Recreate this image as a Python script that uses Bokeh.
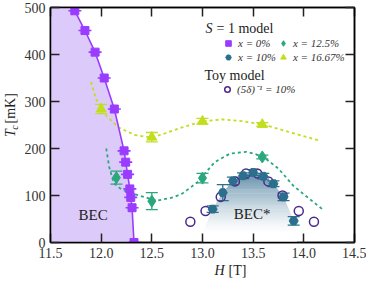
import numpy as np
from bokeh.plotting import figure
from bokeh.layouts import row, column
from bokeh.models import Range1d, LinearAxis, FixedTicker, Label, Legend, LegendItem
from bokeh.embed import file_html
from bokeh.resources import INLINE

# ---------------- data ----------------
x_ticks = [11.5, 12.0, 12.5, 13.0, 13.5, 14.0, 14.5]
x_tick_labels = ["11.5", "12.0", "12.5", "13.0", "13.5", "14.0", "14.5"]
y_ticks = [0, 100, 200, 300, 400, 500]
y_tick_labels = ["0", "100", "200", "300", "400", "500"]

# S = 1 model, x = 0 %
H_x0 = [11.74, 11.84, 11.94, 12.03, 12.13, 12.226, 12.242, 12.261, 12.283, 12.292, 12.305, 12.324]
T_x0 = [493, 451, 405, 350, 284, 195, 171, 145, 114, 96, 74, 0]
# phase boundary line continued to the top edge
H_bound = [11.715] + H_x0
T_bound = [500] + T_x0

# S = 1 model, x = 10 %
H_x10 = [13.1, 13.2, 13.3, 13.4, 13.5, 13.6, 13.7, 13.8, 13.9]
T_x10 = [71, 106, 131, 142, 149, 141, 125, 97, 46]
E_x10 = [7, 17, 8, 6, 6, 6, 6, 8, 9]

# S = 1 model, x = 12.5 %
H_x125 = [12.15, 12.50, 13.00, 13.59]
T_x125 = [138, 88, 137, 182]
E_x125 = [14, 18, 10, 4]

# S = 1 model, x = 16.67 %
H_x167 = [12.00, 12.50, 13.00, 13.59]
T_x167 = [284, 224, 258, 251]
E_x167 = [10, 10, 6, 4]

# Toy model (5 delta)^-1 = 10 %
H_toy = [12.88, 13.03, 13.18, 13.32, 13.43, 13.54, 13.65, 13.79, 13.95, 14.10]
T_toy = [44, 67, 97, 130, 147, 147, 130, 100, 67, 44]

# dashed guide curves
H_g167 = [11.90, 11.95, 12.05, 12.17, 12.33, 12.50, 12.64, 12.80, 13.00, 13.20, 13.40, 13.60, 13.84, 14.15]
T_g167 = [342, 305, 270, 245, 229, 223, 233, 245, 258, 262, 258, 251, 236, 217]
H_g125 = [12.05, 12.08, 12.125, 12.20, 12.28, 12.39, 12.55, 12.71, 12.80, 12.95, 13.12, 13.27, 13.43, 13.59, 13.75, 13.90, 14.06, 14.20]
T_g125 = [200, 160, 126, 113, 106, 99, 89, 96, 104, 128, 171, 189, 193, 184, 157, 120, 92, 68]

# BEC* shaded dome outline
H_dome = [13.0] + H_x10 + [13.93]
T_dome = [20] + T_x10 + [20]

# ---------------- style ----------------
FONT = "Liberation Serif"
C_X0 = "#9a3cff"
C_BEC = "#dccbfa"
C_X10 = "#2b6f8c"
C_X125 = "#2aa87c"
C_X167 = "#c3dd1f"
C_TOY = "#4c2a8c"

LEFT_W = 21
MAIN_W, MAIN_H = 345, 262
BOT_H = 16
TOTAL_H = MAIN_H + BOT_H

p = figure(width=MAIN_W, height=MAIN_H, output_backend="svg", toolbar_location=None,
           x_range=Range1d(11.5, 14.5), y_range=Range1d(0, 500),
           min_border_left=29, min_border_right=12, min_border_top=7, min_border_bottom=20,
           x_axis_location=None, y_axis_location=None)
p.xgrid.visible = False
p.ygrid.visible = False
p.outline_line_color = "black"
p.outline_line_width = 1.5
p.background_fill_color = "white"
p.border_fill_color = "white"

def style_axis(ax, ticks, labels, show):
    ax.ticker = FixedTicker(ticks=ticks)
    ax.major_label_overrides = {t: l for t, l in zip(ticks, labels)}
    ax.minor_tick_line_color = None
    ax.major_tick_in = 9
    ax.major_tick_out = 0
    ax.major_tick_line_width = 1.5
    ax.major_tick_line_color = "#222222"
    ax.axis_line_width = 1.5
    ax.axis_line_color = "black"
    ax.major_label_text_font = FONT
    if show:
        ax.major_label_text_color = "#333333"
        ax.major_label_text_font_size = "14px"
        ax.major_label_standoff = 5
    else:
        ax.major_label_text_color = None
        ax.major_label_text_font_size = "2px"
        ax.major_label_standoff = 0

xb = LinearAxis(); style_axis(xb, x_ticks, x_tick_labels, True); p.add_layout(xb, "below")
xt = LinearAxis(); style_axis(xt, x_ticks, x_tick_labels, False); p.add_layout(xt, "above")
yl = LinearAxis(); style_axis(yl, y_ticks, y_tick_labels, True); p.add_layout(yl, "left")
yr = LinearAxis(); style_axis(yr, y_ticks, y_tick_labels, False); p.add_layout(yr, "right")

# BEC region
p.harea(y=T_bound, x1=11.5, x2=H_bound, fill_color=C_BEC, fill_alpha=1.0)

# BEC* gradient dome
xg = np.linspace(H_dome[0], H_dome[-1], 400)
yg = np.interp(xg, H_dome, T_dome)
top = np.array([95, 140, 168])
xs, ys, cols = [], [], []
step = 2.0
for lo in np.arange(0, max(T_dome), step):
    hi = lo + step + 1.0
    m = yg > lo
    if not m.any():
        continue
    xx = xg[m]
    a = np.minimum(yg[m], lo)
    b = np.minimum(yg[m], hi)
    xs.append(list(xx) + list(xx[::-1]))
    ys.append(list(b) + list(a[::-1]))
    t = np.clip((lo + 1 - 20) / 130.0, 0, 1) ** 1.3
    c = (1 - t) * 255 + t * top
    cols.append("#%02x%02x%02x" % tuple(int(round(v)) for v in c))
p.patches(xs, ys, fill_color=cols, line_color=None)

# dashed guide curves
p.line(H_g167, T_g167, line_color=C_X167, line_width=1.8, line_dash="3 3")
p.line(H_g125, T_g125, line_color=C_X125, line_width=1.8, line_dash="3 3")

# boundary line
p.line(H_bound, T_bound, line_color=C_X0, line_width=1.6)

def errbars(H, T, E, color):
    lo = [t - e for t, e in zip(T, E)]
    hi = [t + e for t, e in zip(T, E)]
    p.segment(x0=H, y0=lo, x1=H, y1=hi, line_color=color, line_width=1.3)
    p.scatter(H, lo, marker="dash", size=12, line_color=color, line_width=1.3)
    p.scatter(H, hi, marker="dash", size=12, line_color=color, line_width=1.3)

errbars(H_x125, T_x125, E_x125, C_X125)
errbars(H_x167, T_x167, E_x167, C_X167)
errbars(H_x10, T_x10, E_x10, C_X10)

# toy model circles
r_toy = p.scatter(H_toy, T_toy, marker="circle", size=9, fill_color="white", fill_alpha=0.0,
                  line_color=C_TOY, line_width=1.5)

# x=0% squares with horizontal bars
p.scatter(H_x0, T_x0, marker="dash", size=13, line_color=C_X0, line_width=1.6)
r_x0 = p.scatter(H_x0, T_x0, marker="square", size=8, fill_color=C_X0, line_color=C_X0)
r_x125 = p.scatter(H_x125, T_x125, marker="diamond", size=12, fill_color=C_X125, line_color=C_X125)
r_x167 = p.scatter(H_x167, T_x167, marker="triangle", size=10, fill_color=C_X167, line_color=C_X167)
r_x10 = p.scatter(H_x10, T_x10, marker="hex", size=9, fill_color=C_X10, line_color=C_X10)

# ---------------- legends ----------------
def mk_legend(items, loc, ncols):
    lg = Legend(items=items, location=loc, ncols=ncols, border_line_color=None,
                background_fill_alpha=0.0, padding=0, margin=0, spacing=0,
                glyph_width=14, glyph_height=14, label_height=14, label_standoff=3,
                label_text_font=FONT, label_text_font_size="11px", label_text_font_style="italic",
                label_text_color="#333333", click_policy="none")
    p.add_layout(lg)
    return lg

mk_legend([LegendItem(label="x = 0%", renderers=[r_x0]),
           LegendItem(label="x = 10%", renderers=[r_x10]),
           LegendItem(label="x = 12.5%", renderers=[r_x125]),
           LegendItem(label="x = 16.67%", renderers=[r_x167])], (171, 178), 2)
mk_legend([LegendItem(label="(5δ)⁻¹ = 10%", renderers=[r_toy])], (170, 146), 1)

def lab(fig, x, y, text, size="14px", style="normal", angle=0, units="screen", align="left", color="#222222"):
    fig.add_layout(Label(x=x, y=y, x_units=units, y_units=units, text=text, angle=angle,
                         text_font=FONT, text_font_size=size, text_font_style=style,
                         text_color=color, text_align=align, text_baseline="middle"))

# legend group titles
lab(p, 155, 213.6, "S", style="italic")
lab(p, 166, 213.6, "= 1 model")
lab(p, 154, 166.6, "Toy model")

# region labels
lab(p, 11.92, 58, "BEC", size="15px", units="data", align="center")
lab(p, 13.49, 61.5, "BEC*", size="15px", units="data", align="center")

# ---------------- axis-label strips ----------------
def strip(w, h):
    f = figure(width=w, height=h, output_backend="svg", toolbar_location=None,
               x_range=Range1d(0, 1), y_range=Range1d(0, 1),
               min_border=0, x_axis_location=None, y_axis_location=None)
    f.xgrid.visible = False
    f.ygrid.visible = False
    f.outline_line_color = None
    f.background_fill_color = "white"
    f.border_fill_color = "white"
    return f

left = strip(LEFT_W, TOTAL_H)
lab(left, 10, 141.5, "T", style="italic", angle=np.pi / 2)
lab(left, 13.5, 148.7, "c", size="10px", style="italic", angle=np.pi / 2)
lab(left, 10, 155, "[mK]", angle=np.pi / 2)

bottom = strip(MAIN_W, BOT_H)
lab(bottom, 164, 8, "H", style="italic")
lab(bottom, 178, 8, "[T]")

layout = row(left, column(p, bottom, spacing=0), spacing=0)
open("out.html", "w").write(file_html(layout, INLINE))
